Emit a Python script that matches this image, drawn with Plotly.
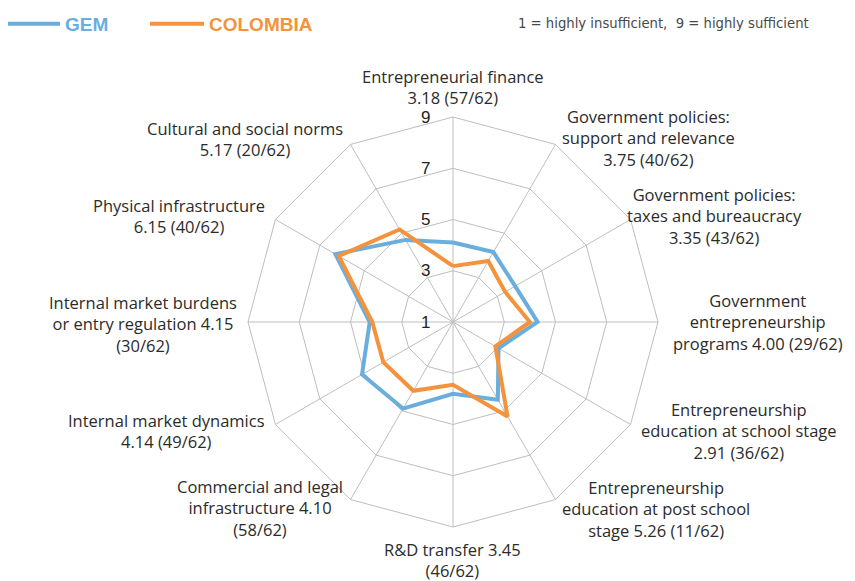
import plotly.graph_objects as go

categories = [
    "Entrepreneurial finance",
    "Government policies: support and relevance",
    "Government policies: taxes and bureaucracy",
    "Government entrepreneurship programs",
    "Entrepreneurship education at school stage",
    "Entrepreneurship education at post school stage",
    "R&D transfer",
    "Commercial and legal infrastructure",
    "Internal market dynamics",
    "Internal market burdens or entry regulation",
    "Physical infrastructure",
    "Cultural and social norms",
]
colombia = [3.18, 3.75, 3.35, 4.00, 2.91, 5.26, 3.45, 4.10, 4.14, 4.15, 6.15, 5.17]
gem = [4.10, 4.15, 3.80, 4.30, 3.05, 4.50, 3.80, 4.90, 5.10, 4.25, 6.30, 4.70]
tick_labels = [
    "Entrepreneurial finance<br>3.18 (57/62)",
    "Government policies:<br>support and relevance<br>3.75 (40/62)",
    "Government policies:<br>taxes and bureaucracy<br>3.35 (43/62)",
    "Government<br>entrepreneurship<br>programs 4.00 (29/62)",
    "Entrepreneurship<br>education at school stage<br>2.91 (36/62)",
    "Entrepreneurship<br>education at post school<br>stage 5.26 (11/62)",
    "R&amp;D transfer 3.45<br>(46/62)",
    "Commercial and legal<br>infrastructure 4.10<br>(58/62)",
    "Internal market dynamics<br>4.14 (49/62)",
    "Internal market burdens<br>or entry regulation 4.15<br>(30/62)",
    "Physical infrastructure<br>6.15 (40/62)",
    "Cultural and social norms<br>5.17 (20/62)",
]
# label centres in page pixels (x, y)
label_pos = [
    (453, 87), (648, 138), (714, 216), (758, 322), (739, 431), (656, 509),
    (452, 560), (260, 508), (166, 431), (143, 324), (179, 216), (245, 139),
]
radial_ticks = [1, 3, 5, 7, 9]

OFF = 8  # default body margin of the html page
W, H = 855 - OFF, 581 - OFF
BLUE = "#6AAEDE"
ORANGE = "#F5923C"
GRID = "#BEBEBE"


def px_x(x):
    return (x - OFF) / W


def px_y(y):
    return 1 - (y - OFF) / H


fig = go.Figure()
fig.add_trace(go.Scatterpolar(
    r=gem + gem[:1], theta=categories + categories[:1], mode="lines",
    line=dict(color=BLUE, width=4), name="<b>GEM</b>", legend="legend",
))
fig.add_trace(go.Scatterpolar(
    r=colombia + colombia[:1], theta=categories + categories[:1], mode="lines",
    line=dict(color=ORANGE, width=4), name="<b>COLOMBIA</b>", legend="legend2",
))

leg_common = dict(orientation="h", xanchor="left", yanchor="top", itemwidth=54,
                  bgcolor="rgba(0,0,0,0)")
cx, cy, R = 453, 322, 205
fig.update_layout(
    width=W, height=H,
    margin=dict(l=0, r=0, t=0, b=0, autoexpand=False),
    paper_bgcolor="white",
    showlegend=True,
    legend=dict(x=px_x(1), y=px_y(5),
                font=dict(family="Liberation Sans, Arial, sans-serif", size=19, color=BLUE),
                **leg_common),
    legend2=dict(x=px_x(145), y=px_y(5),
                 font=dict(family="Liberation Sans, Arial, sans-serif", size=19, color=ORANGE),
                 **leg_common),
    polar=dict(
        domain=dict(x=[px_x(cx - R), px_x(cx + R)], y=[px_y(cy + R), px_y(cy - R)]),
        bgcolor="white",
        gridshape="linear",
        angularaxis=dict(rotation=90, direction="clockwise", type="category",
                         categoryorder="array", categoryarray=categories,
                         showticklabels=False, ticks="", showgrid=True,
                         gridcolor=GRID, gridwidth=1, showline=True,
                         linecolor=GRID, linewidth=1),
        radialaxis=dict(range=[1, 9], tickvals=radial_ticks, angle=90, tickangle=90,
                        side="counterclockwise", showline=False,
                        ticks="outside", ticklen=16, tickcolor="rgba(0,0,0,0)",
                        gridcolor=GRID, gridwidth=1,
                        tickfont=dict(family="Liberation Sans, Arial, sans-serif",
                                      size=17, color="#222222")),
    ),
)

for txt, (px, py) in zip(tick_labels, label_pos):
    fig.add_annotation(text=txt, x=px_x(px), y=px_y(py), xref="paper", yref="paper",
                       xanchor="center", yanchor="middle", align="center",
                       showarrow=False,
                       font=dict(family="Open Sans, sans-serif", size=16.5, color="#2b2b2b"))

fig.add_annotation(text="1 = highly insufficient,  9 = highly sufficient",
                   x=px_x(663), y=px_y(23), xref="paper", yref="paper",
                   xanchor="center", yanchor="middle", showarrow=False,
                   font=dict(family="DejaVu Sans Condensed, sans-serif",
                             size=14.7, color="#4a4a4a"))

fig.write_html("out.html")
